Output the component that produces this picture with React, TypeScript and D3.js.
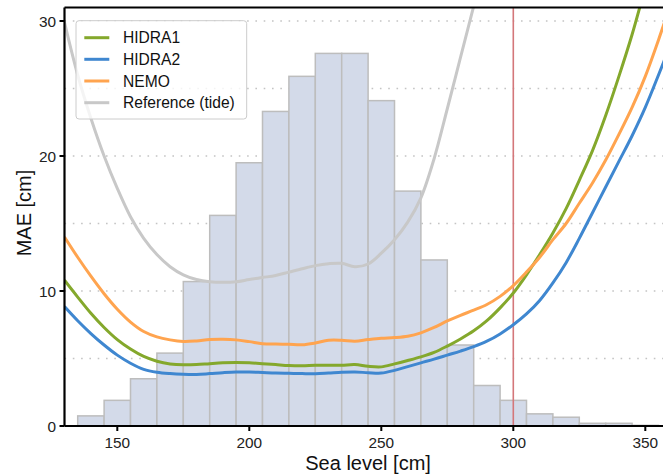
import React from 'react';
import * as d3 from 'd3';

// ---- data ----
const levels = [130,135,140,145,150,155,160,165,170,175,180,185,190,195,200,205,210,215,220,225,230,235,240,245,250,255,260,265,270,275,280,285,290,295,300,305,310,315,320,325,330,335,340,345,350,355,360];
const hidra1 = [10.8,9.55,8.35,7.3,6.4,5.7,5.15,4.8,4.6,4.53,4.55,4.62,4.68,4.7,4.68,4.62,4.55,4.48,4.46,4.5,4.5,4.5,4.55,4.42,4.38,4.6,4.85,5.12,5.45,5.92,6.45,7.05,7.8,8.75,9.85,11.2,12.7,14.3,16.1,18.2,20.4,23.0,25.9,29.0,32.5,36,40];
const hidra2 = [8.85,7.8,6.85,6.0,5.25,4.65,4.2,3.98,3.88,3.83,3.82,3.88,3.95,4.0,4.0,3.96,3.92,3.9,3.88,3.87,3.92,3.98,4.0,3.95,3.92,4.12,4.4,4.68,4.95,5.25,5.55,5.88,6.28,6.82,7.5,8.3,9.3,10.6,12.1,13.9,15.8,17.7,19.6,21.5,23.6,26.0,28.5];
const nemo = [14.0,12.5,11.1,9.8,8.65,7.7,7.0,6.6,6.38,6.26,6.3,6.4,6.42,6.38,6.25,6.1,6.07,6.05,6.02,6.15,6.35,6.35,6.28,6.4,6.5,6.55,6.65,6.9,7.3,7.78,8.2,8.58,9.0,9.6,10.4,11.4,12.5,13.8,15.0,16.5,18.0,19.7,21.6,23.6,25.9,28.6,31.5];
const refLevels = [130,135,140,145,150,155,160,165,170,175,180,185,190,195,200,205,210,215,220,225,230,235,240,245,250,255,260,265,270,275,280,285,290];
const refTide = [29.9,26.0,22.8,20.0,17.6,15.5,13.9,12.7,11.8,11.2,10.85,10.68,10.64,10.68,10.85,11.0,11.15,11.4,11.65,11.88,12.02,12.05,11.8,12.0,12.8,13.8,15.1,16.9,19.8,23.5,27.3,31.1,35];
const binStarts = [135,145,155,165,175,185,195,205,215,225,235,245,255,265,275,285,295,305,315,325,335,345];
const binHeights = [0.75,1.9,3.5,5.4,10.7,15.6,19.5,23.3,25.9,27.6,27.6,24.1,17.4,12.3,6.0,3.0,1.9,0.9,0.65,0.2,0.2,0.05];
const binWidth = 10;
const xTicks = [150,200,250,300,350];
const yTicks = [0,10,20,30];
const gridValues = [5,10,15,20,25,30];
const thresholdLevel = 300;
const seriesNames = ['HIDRA1','HIDRA2','NEMO','Reference (tide)'];
const seriesColors = ['#84a82c','#3f87d0','#ffa44f','#c8c8c8'];

const W = 663, H = 475;
const L = 64.5, R = 671.7, T = 7.5, B = 426;
const FONT = '"Liberation Sans", Arial, sans-serif';

export default function App() {
  const x = d3.scaleLinear().domain([130, 360]).range([L, R]);
  const y = d3.scaleLinear().domain([0, 31]).range([B, T]);
  const line = d3.line<[number, number]>().x(d => x(d[0])).y(d => y(d[1])).curve(d3.curveCatmullRom.alpha(0.5));
  const series: [number, number][][] = [
    levels.map((l, i) => [l, hidra1[i]]),
    levels.map((l, i) => [l, hidra2[i]]),
    levels.map((l, i) => [l, nemo[i]]),
    refLevels.map((l, i) => [l, refTide[i]]),
  ];
  const drawOrder = [3, 0, 1, 2];
  const legendRows = [37.7, 59.3, 81, 102.7];
  return (
    <svg width={W} height={H} style={{ position: 'absolute', left: 0, top: 0, background: '#fff' }} fontFamily={FONT}>
      <defs>
        <clipPath id="plot"><rect x={L} y={T} width={R - L} height={B - T} /></clipPath>
      </defs>
      {gridValues.map(g => (
        <line key={g} x1={L} x2={R} y1={y(g)} y2={y(g)} stroke="#c4c4c4" strokeWidth={1.6} strokeDasharray="1.6,6.7" />
      ))}
      <g clipPath="url(#plot)">
        {binStarts.map((b, i) => (
          <rect key={b} x={x(b)} y={y(binHeights[i])} width={x(b + binWidth) - x(b)} height={B - y(binHeights[i])}
            fill="#d3dae9" stroke="#bdbdbd" strokeWidth={1.5} />
        ))}
        <line x1={x(thresholdLevel)} x2={x(thresholdLevel)} y1={T} y2={B} stroke="#d4777a" strokeWidth={1.6} />
        {drawOrder.map(i => (
          <path key={i} d={line(series[i]) || ''} fill="none" stroke={seriesColors[i]} strokeWidth={3} strokeLinejoin="round" />
        ))}
      </g>
      {/* legend */}
      <rect x={76} y={20.7} width={170.7} height={98.3} rx={3} fill="#fff" fillOpacity={0.8} stroke="#cccccc" strokeWidth={1} />
      {seriesNames.map((n, i) => (
        <g key={n}>
          <line x1={84.3} x2={109.3} y1={legendRows[i]} y2={legendRows[i]} stroke={seriesColors[i]} strokeWidth={3} />
          <text x={123} y={legendRows[i]} dy="0.36em" fontSize={15.6} fill="#111">{n}</text>
        </g>
      ))}
      {/* spines */}
      <line x1={L} x2={L} y1={T} y2={B} stroke="#000" strokeWidth={2.2} />
      <line x1={L} x2={R} y1={B} y2={B} stroke="#000" strokeWidth={2.2} />
      <line x1={L} x2={R} y1={T} y2={T} stroke="#000" strokeWidth={2.2} />
      <line x1={R} x2={R} y1={T} y2={B} stroke="#000" strokeWidth={2.2} />
      {/* ticks */}
      {xTicks.map(t => (
        <g key={t}>
          <line x1={x(t)} x2={x(t)} y1={B} y2={B + 5} stroke="#000" strokeWidth={2} />
          <text x={x(t)} y={448} textAnchor="middle" fontSize={15.4} fill="#222">{t}</text>
        </g>
      ))}
      {yTicks.map(t => (
        <g key={t}>
          <line x1={L - 5} x2={L} y1={y(t)} y2={y(t)} stroke="#000" strokeWidth={2} />
          <text x={56} y={y(t)} dy="0.36em" textAnchor="end" fontSize={15.4} fill="#222">{t}</text>
        </g>
      ))}
      <text x={(L + R) / 2} y={469.5} textAnchor="middle" fontSize={20} fill="#111">Sea level [cm]</text>
      <text transform={`translate(30.5, 213) rotate(-90)`} textAnchor="middle" fontSize={20} fill="#111">MAE [cm]</text>
    </svg>
  );
}
